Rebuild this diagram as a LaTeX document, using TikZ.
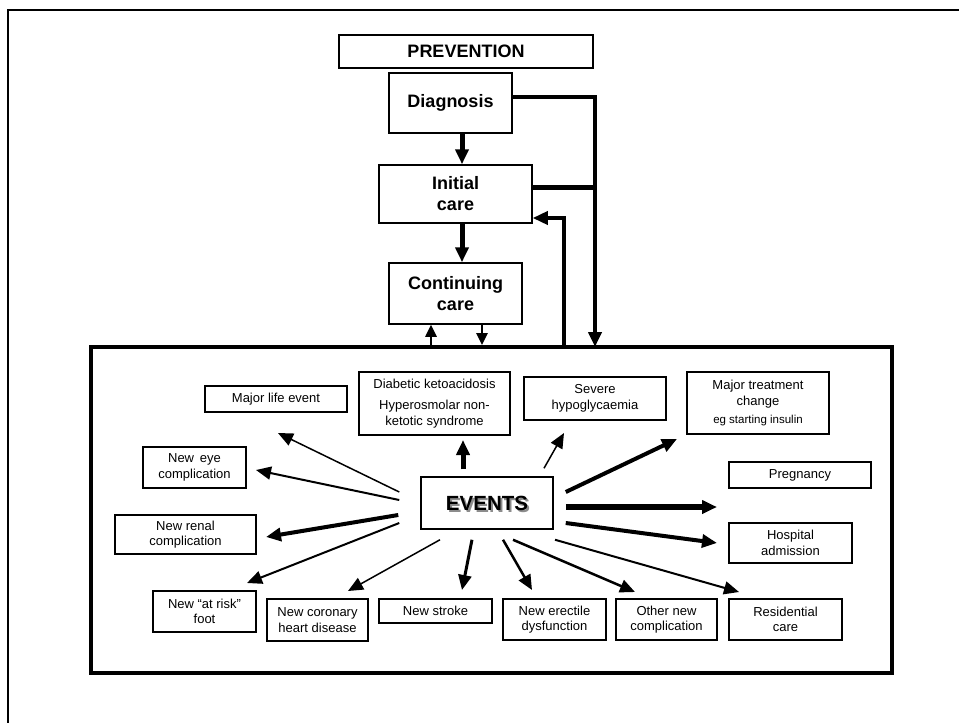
\documentclass[tikz,border=0pt]{standalone}
\usepackage{fontspec}
\setmainfont{Liberation Sans}
\usetikzlibrary{arrows.meta}
\tikzset{
  bx/.style={draw, line width=1.3pt, inner sep=0pt, align=center, font=\fontsize{13}{15.5}\selectfont},
  tb/.style={draw, line width=1.5pt, inner sep=0pt, align=center, font=\bfseries\fontsize{18}{21}\selectfont},
  arr/.style={-{Triangle[length=15pt,width=13pt]}},
  sarr/.style={-{Triangle[length=12pt,width=11pt]}},
}
\begin{document}
\begin{tikzpicture}[x=1pt,y=-1pt]
\useasboundingbox (0,0) rectangle (959,723);
% outer frame
\draw[line width=1.3pt] (8,723) -- (8,10) -- (959,10);
% top boxes
\node[tb, minimum width=254pt, minimum height=33pt] (prev) at (466,51.5) {PREVENTION};
\node[tb, minimum width=123pt, minimum height=60pt] (diag) at (450.5,103) {Diagnosis};
\node[tb, minimum width=153pt, minimum height=58pt] (init) at (455.5,194) {Initial\\care};
\node[tb, minimum width=133pt, minimum height=61pt] (cont) at (455.5,293.5) {Continuing\\care};
% events frame
\node[draw, line width=4pt, minimum width=801pt, minimum height=326pt, inner sep=0pt] (frame) at (491.5,510) {};
% connectors top
\draw[arr, line width=5pt] ([xshift=11.5]diag.south) -- ([xshift=6.5]init.north);
\draw[arr, line width=5pt] ([xshift=6.5]init.south) -- ([xshift=6.5]cont.north);
\coordinate (rj) at (595,97);
\coordinate (rk) at (595,187);
\draw[line width=3.5pt] ([yshift=6]diag.east) -- ([xshift=1.75]rj);
\draw[line width=5pt] ([yshift=7]init.east) -- (rk);
\draw[arr, line width=4pt] ([yshift=1.75]rj) -- (595,347) coordinate (rjend);
\coordinate (ret) at (564,347);
\draw[arr, line width=3.5pt] (ret) |- ([yshift=-24]init.east);
\draw[sarr, line width=2.5pt] ([xshift=-60.5]frame.north) -- ([xshift=-24.5]cont.south);
\draw[sarr, line width=2.5pt] ([xshift=26.5]cont.south) -- ([xshift=-9.5]frame.north);
% event boxes
\node[bx, minimum width=142pt, minimum height=26pt] (life) at (276,399) {Major life event};
\node[bx, minimum width=103pt, minimum height=41pt] (eye) at (194.5,467.5) {New\, eye\\complication};
\node[bx, minimum width=151pt, minimum height=63pt] (dka) at (434.5,403.5) {Diabetic ketoacidosis\\[6pt]Hyperosmolar non-\\ketotic syndrome};
\node[bx, minimum width=142pt, minimum height=43pt] (hypo) at (595,398.5) {Severe\\hypoglycaemia};
\node[bx, minimum width=142pt, minimum height=62pt] (mtc) at (758,403) {Major treatment\\change\\[3pt]{\fontsize{11.5}{13}\selectfont eg starting insulin}};
\node[bx, minimum width=142pt, minimum height=26pt] (preg) at (800,475) {Pregnancy};
\node[bx, minimum width=123pt, minimum height=40pt] (hosp) at (790.5,543) {Hospital\\admission};
\node[bx, minimum width=113pt, minimum height=41pt] (resid) at (785.5,619.5) {Residential\\care};
\node[bx, minimum width=101pt, minimum height=41pt] (other) at (666.5,619.5) {Other new\\complication};
\node[bx, minimum width=103pt, minimum height=41pt] (erect) at (554.5,619.5) {New erectile\\dysfunction};
\node[bx, minimum width=113pt, minimum height=24pt] (stroke) at (435.5,611) {New stroke};
\node[bx, minimum width=101pt, minimum height=42pt] (chd) at (317.5,620) {New coronary\\heart disease};
\node[bx, minimum width=103pt, minimum height=41pt] (foot) at (204.5,611.5) {New ``at risk''\\foot};
\node[bx, minimum width=141pt, minimum height=39pt] (renal) at (185.5,534.5) {New renal\\complication};
% EVENTS
\node[draw, line width=1.5pt, minimum width=132pt, minimum height=52pt, inner sep=0pt] (ev) at (487,503) {};
\node[text=black!45, font=\bfseries\fontsize{20.5}{24}\selectfont] (evs) at (489,505) {EVENTS};
\node[font=\bfseries\fontsize{20.5}{24}\selectfont] (evt) at (487,503) {EVENTS};
% event arrows
\coordinate (lifeT) at (278,433);
\coordinate (eyeT) at (256,470);
\coordinate (renalT) at (266,537);
\coordinate (footT) at (247,583);
\coordinate (chdT) at (348,591);
\coordinate (strokeT) at (462,590);
\coordinate (erectT) at (532,590);
\coordinate (otherT) at (635,592);
\coordinate (residT) at (739,592);
\coordinate (hospT) at (717,543);
\coordinate (pregT) at (717,507);
\coordinate (mtcT) at (677,439);
\coordinate (hypoT) at (564,433);
\coordinate (dkaT) at (463,440);
\draw[arr, line width=1.5pt] ([shift={(-21,-11)}]ev.west) -- (lifeT);
\draw[arr, line width=2pt] ([shift={(-21,-3)}]ev.west) -- (eyeT);
\draw[arr, line width=4pt] ([shift={(-22,12)}]ev.west) -- (renalT);
\draw[arr, line width=2pt] ([shift={(-21,20)}]ev.west) -- (footT);
\draw[arr, line width=1.5pt] ([shift={(-47,10)}]ev.south) -- (chdT);
\draw[arr, line width=3pt] ([shift={(-15,10)}]ev.south) -- (strokeT);
\draw[arr, line width=2.5pt] ([shift={(16,10)}]ev.south) -- (erectT);
\draw[arr, line width=2.5pt] ([shift={(26,10)}]ev.south) -- (otherT);
\draw[arr, line width=2pt] ([shift={(68,10)}]ev.south) -- (residT);
\draw[arr, line width=4pt] ([shift={(12,20)}]ev.east) -- (hospT);
\draw[arr, line width=6pt] ([shift={(12,4)}]ev.east) -- (pregT);
\draw[arr, line width=4pt] ([shift={(12,-11)}]ev.east) -- (mtcT);
\draw[arr, line width=1.5pt] ([shift={(57,-8)}]ev.north) -- (hypoT);
\draw[arr, line width=5pt] ([shift={(-24,-7)}]ev.north) -- (dkaT);
\end{tikzpicture}
\end{document}
